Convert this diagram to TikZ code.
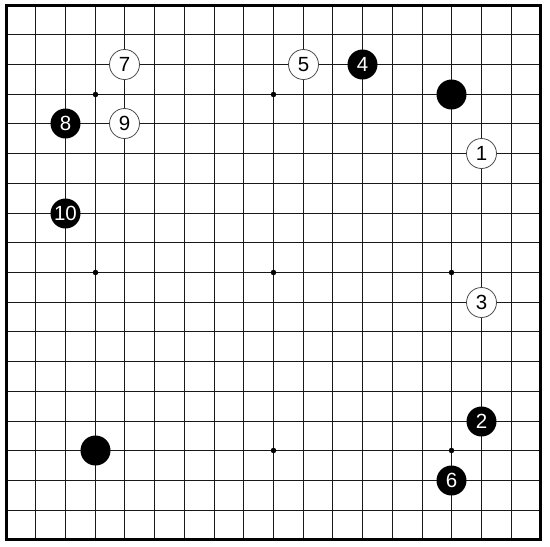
\documentclass[tikz,border=0pt]{standalone}
\usepackage{fontspec}
\setmainfont{Liberation Sans}
\begin{document}
\begin{tikzpicture}[x=1pt,y=-1pt,
  declare function={gx(\i)=floor(6+\i*29.72)+0.5; gy(\i)=floor(5+\i*29.72)+0.5;},
  grid/.style={line width=1.5pt, black!90},
  frame/.style={line width=2.6pt, black},
  star/.style={circle, fill=black, inner sep=0pt, minimum size=5.5pt},
  stone/.style={circle, inner sep=0pt, minimum size=30pt, font=\fontsize{20.5}{20.5}\selectfont},
  bstone/.style={stone, fill=black, text=white},
  wstone/.style={stone, fill=white, draw=black!70, line width=0.8pt, text=black}]
\useasboundingbox (0,0) rectangle (550,547);
\fill[white] (0,0) rectangle (550,547);
\foreach \i in {1,...,17} {
  \draw[grid] ({gx(\i)},{gy(0)}) -- ({gx(\i)},{gy(18)});
  \draw[grid] ({gx(0)},{gy(\i)}) -- ({gx(18)},{gy(\i)});
}
\draw[frame] ({gx(0)},{gy(0)}) rectangle ({gx(18)},{gy(18)});
\foreach \c/\r [count=\k] in {3/3,9/3,15/3,3/9,9/9,15/9,3/15,9/15,15/15}
  \node[star] (h\k) at ({gx(\c)},{gy(\r)}) {};
% unnumbered stones
\node[bstone] (b1) at ({gx(15)},{gy(3)}) {};
\node[bstone] (b2) at ({gx(3)},{gy(15)}) {};
% numbered
\node[wstone] (m1) at ({gx(16)},{gy(5)}) {1};
\node[bstone] (m2) at ({gx(16)},{gy(14)}) {2};
\node[wstone] (m3) at ({gx(16)},{gy(10)}) {3};
\node[bstone] (m4) at ({gx(12)},{gy(2)}) {4};
\node[wstone] (m5) at ({gx(10)},{gy(2)}) {5};
\node[bstone] (m6) at ({gx(15)},{gy(16)}) {6};
\node[wstone] (m7) at ({gx(4)},{gy(2)}) {7};
\node[bstone] (m8) at ({gx(2)},{gy(4)}) {8};
\node[wstone] (m9) at ({gx(4)},{gy(4)}) {9};
\node[bstone] (m10) at ({gx(2)},{gy(7)}) {10};
\end{tikzpicture}
\end{document}
